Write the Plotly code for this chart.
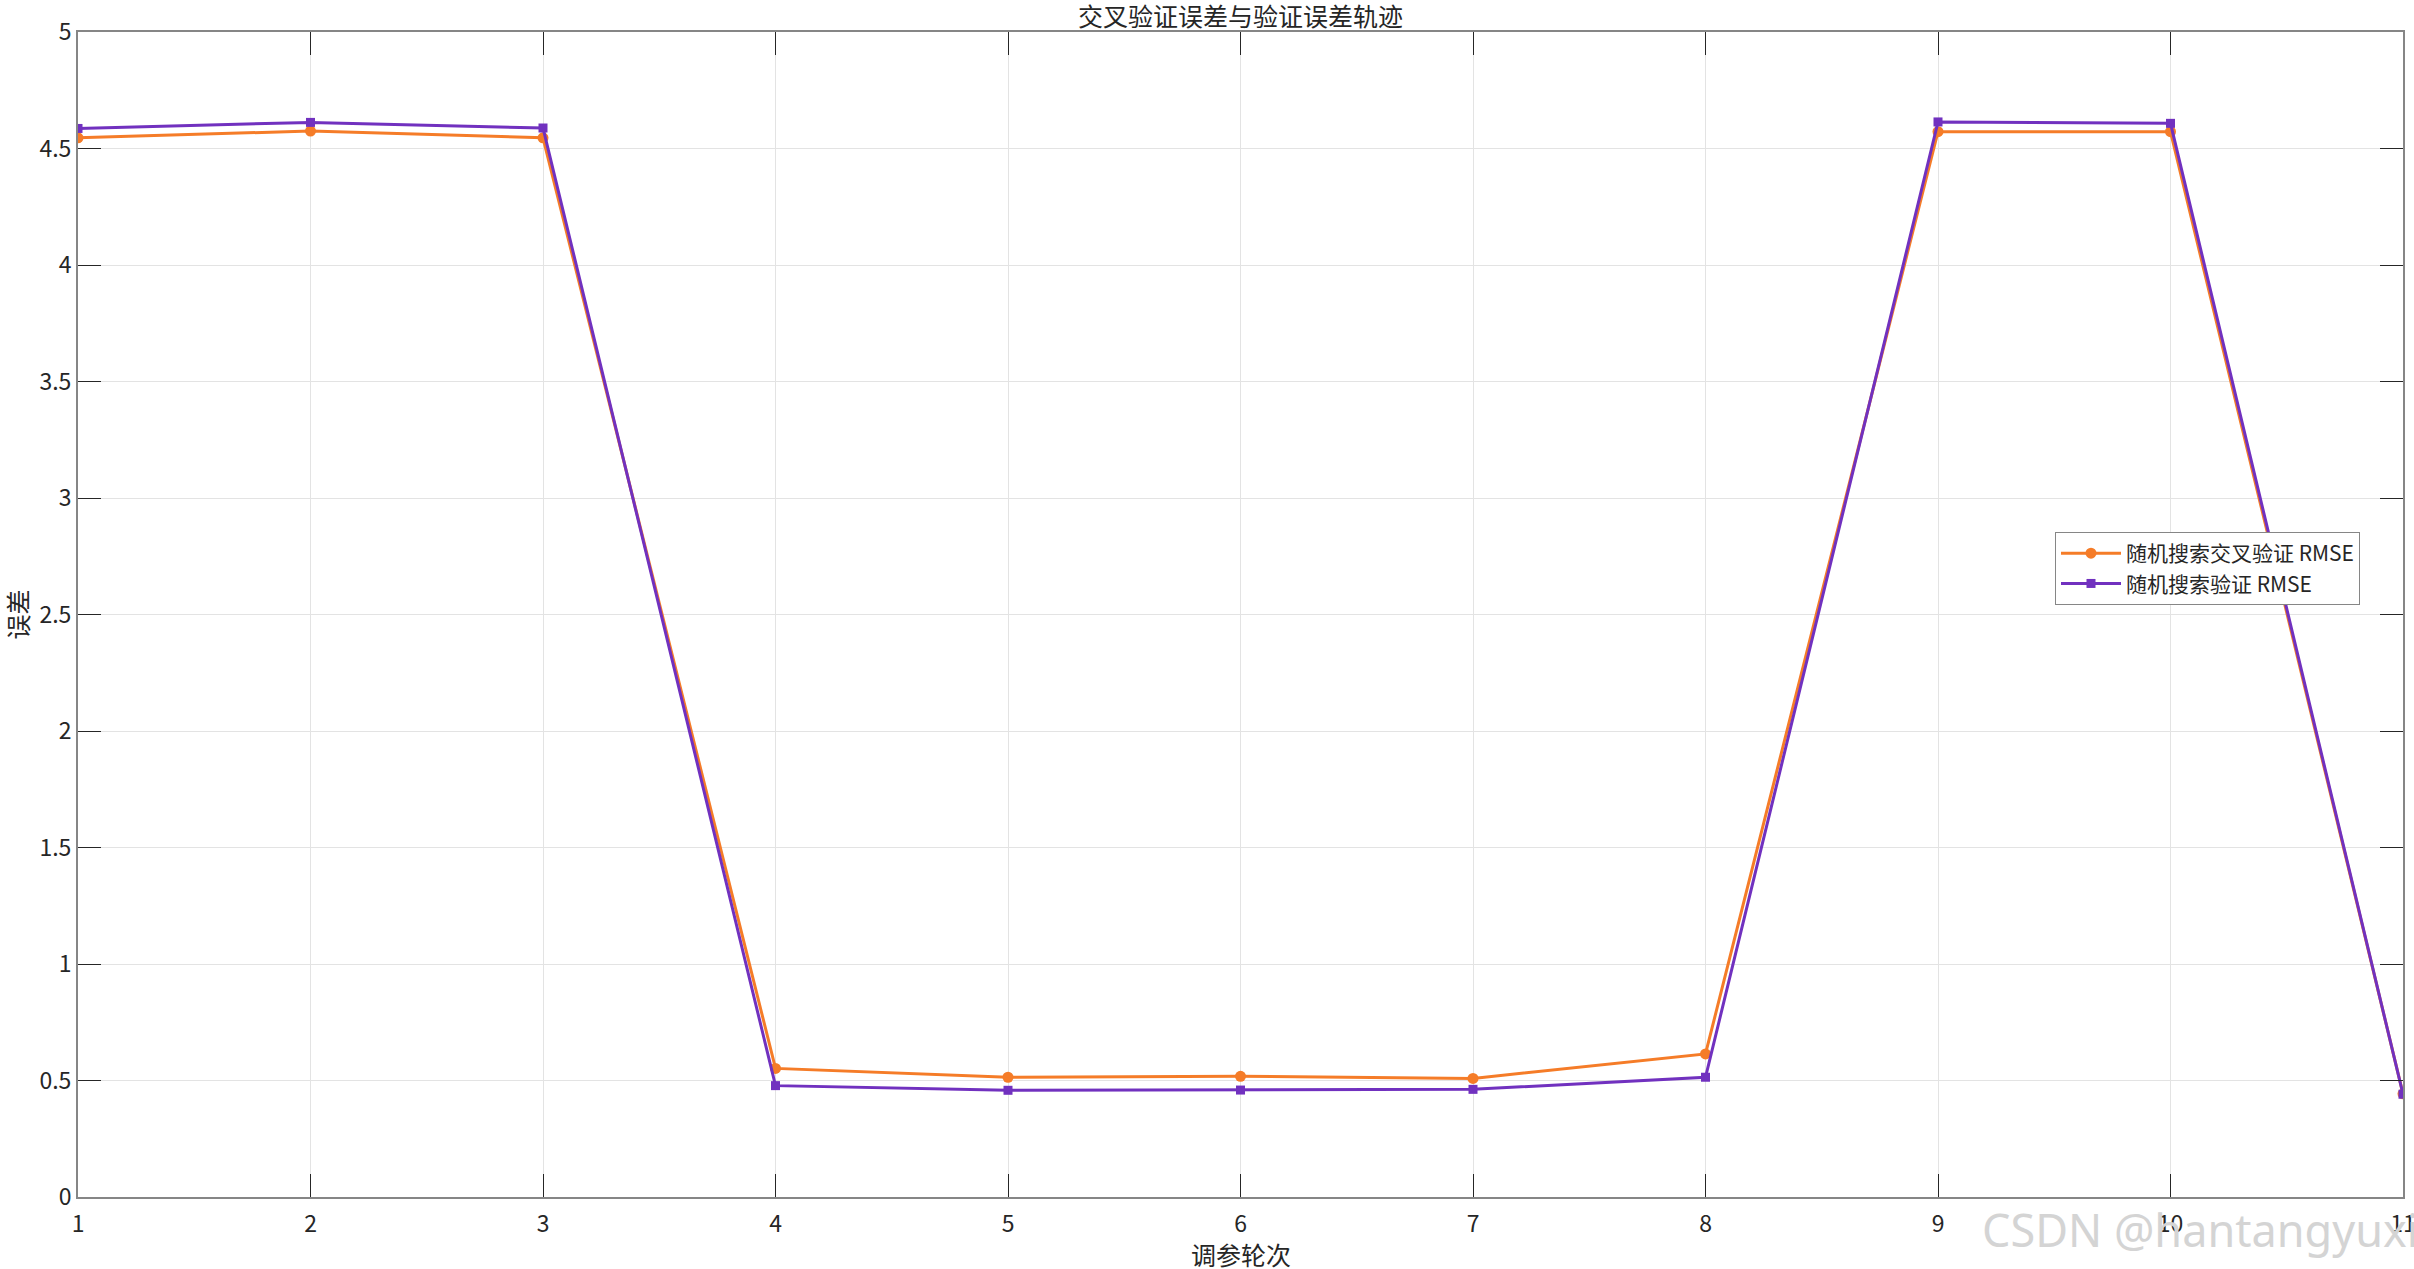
import plotly.graph_objects as go

rounds = [1, 2, 3, 4, 5, 6, 7, 8, 9, 10, 11]
cv_rmse = [4.546, 4.575, 4.546, 0.552, 0.514, 0.518, 0.509, 0.614, 4.572, 4.572, 0.443]
val_rmse = [4.586, 4.612, 4.588, 0.478, 0.458, 0.459, 0.462, 0.514, 4.614, 4.608, 0.441]
x_ticks = list(range(1, 12))
y_ticks = [0, 0.5, 1, 1.5, 2, 2.5, 3, 3.5, 4, 4.5, 5]
y_tick_text = ["0", "0.5", "1", "1.5", "2", "2.5", "3", "3.5", "4", "4.5", "5"]

FONT = "Noto Sans CJK SC, Noto Sans, sans-serif"
ORANGE = "#F57C28"
PURPLE = "#7131BF"
TXT = "#262626"

W, H = 2414, 1269
L, R, T, B = 78, 11, 32, 72
PW, PH = W - L - R, H - T - B

fig = go.Figure()
fig.add_trace(go.Scatter(
    x=rounds, y=cv_rmse, mode="lines+markers", name="随机搜索交叉验证 RMSE",
    line=dict(color=ORANGE, width=3),
    marker=dict(symbol="circle", size=11, color=ORANGE),
))
fig.add_trace(go.Scatter(
    x=rounds, y=val_rmse, mode="lines+markers", name="随机搜索验证 RMSE",
    line=dict(color=PURPLE, width=3),
    marker=dict(symbol="square", size=9, color=PURPLE),
))

axis_common = dict(
    showline=True, linecolor="#868686", linewidth=2, mirror="allticks",
    ticks="inside", ticklen=23, tickcolor=TXT, tickwidth=1,
    showgrid=True, gridcolor="#e3e3e3", gridwidth=1, zeroline=False,
    tickfont=dict(family=FONT, size=23, color=TXT), automargin=False,
    ticklabeloverflow="allow",
)

fig.update_layout(
    width=W, height=H,
    margin=dict(l=L, r=R, t=T, b=B, autoexpand=False),
    paper_bgcolor="white", plot_bgcolor="white",
    font=dict(family=FONT, color=TXT),
    xaxis=dict(range=[1, 11], tickvals=x_ticks, ticktext=[str(t) for t in x_ticks],
               ticklabelstandoff=5, **axis_common),
    yaxis=dict(range=[0, 5], tickvals=y_ticks, ticktext=y_tick_text,
               **axis_common),
    legend=dict(x=(2055 - L) / PW, y=(H - B - 532) / PH, xanchor="left", yanchor="top",
                bgcolor="white", bordercolor="#868686", borderwidth=1,
                font=dict(family=FONT, size=21, color=TXT),
                tracegroupgap=0, itemwidth=60),
    showlegend=True,
)

# chart title
fig.add_annotation(
    text="交叉验证误差与验证误差轨迹", xref="paper", yref="paper",
    x=0.5, y=(H - B - 15) / PH, xanchor="center", yanchor="middle", showarrow=False,
    font=dict(family=FONT, size=25, color=TXT),
)
# x-axis title
fig.add_annotation(
    text="调参轮次", xref="paper", yref="paper",
    x=0.5, y=(H - B - 1254) / PH, xanchor="center", yanchor="middle", showarrow=False,
    font=dict(family=FONT, size=25, color=TXT),
)
# y-axis title
fig.add_annotation(
    text="误差", xref="paper", yref="paper",
    x=(16 - L) / PW, y=0.5, xanchor="center", yanchor="middle", showarrow=False,
    textangle=-90, font=dict(family=FONT, size=25, color=TXT),
)
# watermark
fig.add_annotation(
    text="CSDN @hantangyuxi", xref="paper", yref="paper",
    x=(W + 6 - L) / PW, y=(H - B - 1229) / PH, xanchor="right", yanchor="middle",
    showarrow=False,
    font=dict(family="Noto Sans, sans-serif", size=45, color="#d4d4d4"),
)

fig.write_html(
    "out.html",
    config={"displayModeBar": False},
    post_script="document.body.style.margin='0px';document.body.style.overflow='hidden';",
)
